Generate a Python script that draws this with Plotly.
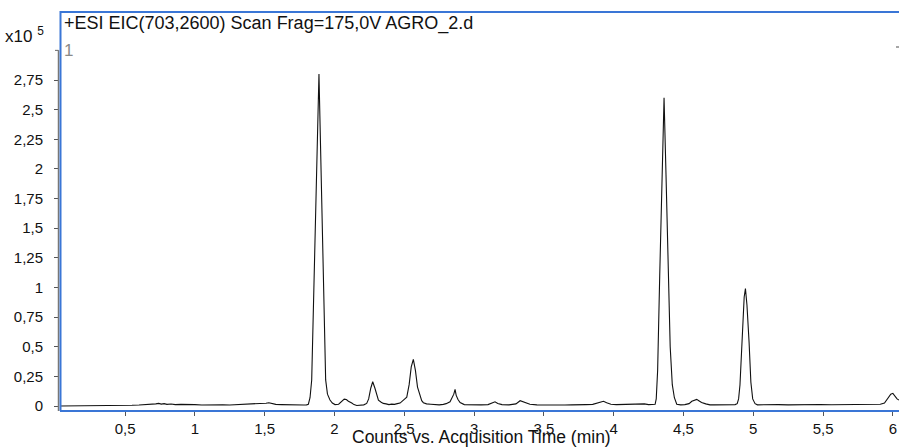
import plotly.graph_objects as go

# ---- data, intensity in units of 1e5 counts ----
time_min = [
    0.034, 0.10, 0.20, 0.30, 0.40, 0.45, 0.50, 0.55, 0.60, 0.65, 0.70, 0.72, 0.74, 0.76, 0.78, 0.80,
    0.83, 0.86, 0.90, 0.95, 1.00, 1.05, 1.10, 1.15, 1.20, 1.25, 1.30, 1.35, 1.40, 1.45, 1.48, 1.51,
    1.53, 1.55, 1.58, 1.62, 1.66, 1.70, 1.74, 1.78, 1.80, 1.813, 1.825, 1.837, 1.889, 1.937, 1.950,
    1.968, 1.985, 2.004, 2.03, 2.05, 2.07, 2.085, 2.10, 2.124, 2.14, 2.16, 2.19, 2.21, 2.231, 2.245,
    2.26, 2.274, 2.29, 2.30, 2.315, 2.335, 2.35, 2.37, 2.39, 2.41, 2.43, 2.45, 2.47, 2.494, 2.518,
    2.535, 2.55, 2.565, 2.58, 2.595, 2.613, 2.625, 2.637, 2.66, 2.69, 2.72, 2.75, 2.78, 2.80, 2.828,
    2.845, 2.855, 2.864, 2.872, 2.885, 2.90, 2.93, 2.96, 3.00, 3.05, 3.10, 3.13, 3.15, 3.17, 3.20,
    3.25, 3.30, 3.33, 3.36, 3.40, 3.45, 3.50, 3.55, 3.60, 3.65, 3.70, 3.75, 3.80, 3.85, 3.90, 3.927,
    3.95, 3.98, 4.02, 4.06, 4.10, 4.14, 4.19, 4.22, 4.25, 4.28, 4.297, 4.305, 4.315, 4.33, 4.345,
    4.361, 4.375, 4.39, 4.405, 4.42, 4.435, 4.452, 4.48, 4.51, 4.54, 4.56, 4.58, 4.595, 4.61, 4.63,
    4.66, 4.69, 4.72, 4.76, 4.80, 4.84, 4.87, 4.885, 4.895, 4.905, 4.918, 4.935, 4.944, 4.955, 4.970,
    4.983, 4.996, 5.013, 5.03, 5.07, 5.12, 5.18, 5.25, 5.32, 5.40, 5.48, 5.56, 5.64, 5.72, 5.80,
    5.86, 5.91, 5.94, 5.97, 5.985, 6.00, 6.015, 6.03, 6.044,
]
counts_e5 = [
    0.000, 0.000, 0.000, 0.000, 0.001, 0.002, 0.004, 0.006, 0.008, 0.010, 0.012, 0.018, 0.022, 0.016, 0.020, 0.014,
    0.017, 0.012, 0.014, 0.010, 0.012, 0.009, 0.011, 0.008, 0.010, 0.009, 0.012, 0.010, 0.013, 0.015, 0.018, 0.024,
    0.028, 0.020, 0.014, 0.012, 0.010, 0.009, 0.008, 0.008, 0.010, 0.015, 0.070, 0.220, 2.800, 0.220, 0.100,
    0.050, 0.025, 0.012, 0.015, 0.035, 0.058, 0.055, 0.040, 0.025, 0.012, 0.005, 0.006, 0.010, 0.022, 0.060,
    0.150, 0.205, 0.150, 0.100, 0.050, 0.032, 0.022, 0.018, 0.012, 0.016, 0.014, 0.020, 0.025, 0.050, 0.075,
    0.180, 0.330, 0.394, 0.300, 0.160, 0.080, 0.045, 0.028, 0.018, 0.015, 0.012, 0.010, 0.014, 0.020, 0.036,
    0.075, 0.100, 0.140, 0.090, 0.055, 0.030, 0.012, 0.010, 0.008, 0.010, 0.012, 0.025, 0.036, 0.022, 0.012,
    0.010, 0.018, 0.045, 0.030, 0.015, 0.010, 0.008, 0.007, 0.009, 0.008, 0.010, 0.009, 0.012, 0.014, 0.030, 0.040,
    0.028, 0.015, 0.012, 0.014, 0.012, 0.016, 0.022, 0.018, 0.012, 0.010, 0.015, 0.060, 0.300, 1.100, 1.950,
    2.600, 1.950, 1.200, 0.500, 0.180, 0.070, 0.015, 0.010, 0.012, 0.020, 0.040, 0.050, 0.056, 0.045, 0.030,
    0.018, 0.010, 0.010, 0.012, 0.010, 0.012, 0.012, 0.020, 0.060, 0.180, 0.540, 0.920, 0.990, 0.850, 0.540,
    0.200, 0.060, 0.020, 0.010, 0.012, 0.010, 0.012, 0.010, 0.012, 0.010, 0.013, 0.011, 0.012, 0.010, 0.012,
    0.013, 0.015, 0.025, 0.070, 0.100, 0.107, 0.085, 0.060, 0.050,
]

x_tick_vals = [0.5, 1, 1.5, 2, 2.5, 3, 3.5, 4, 4.5, 5, 5.5, 6]
x_tick_text = ["0,5", "1", "1,5", "2", "2,5", "3", "3,5", "4", "4,5", "5", "5,5", "6"]
y_tick_vals = [0, 0.25, 0.5, 0.75, 1, 1.25, 1.5, 1.75, 2, 2.25, 2.5, 2.75]
y_tick_text = ["0", "0,25", "0,5", "0,75", "1", "1,25", "1,5", "1,75", "2", "2,25", "2,5", "2,75"]

title_text = "+ESI EIC(703,2600) Scan Frag=175,0V AGRO_2.d"
x_title = "Counts vs. Acquisition Time (min)"

FONT = "Arial, 'Liberation Sans', sans-serif"
BLUE = "#3a76d6"
W, H = 899, 448
ML, MR, MT, MB = 60, 0, 11, 37
PW = W - ML - MR
PH = H - MT - MB

fig = go.Figure()
fig.add_trace(go.Scatter(x=time_min, y=counts_e5, mode="lines",
                         line=dict(color="#111111", width=1.1), hoverinfo="skip",
                         showlegend=False, cliponaxis=True))

fig.update_layout(
    width=W, height=H,
    margin=dict(l=ML, r=MR, t=MT, b=MB, autoexpand=False),
    paper_bgcolor="white", plot_bgcolor="white",
    font=dict(family=FONT, size=15, color="#111111"),
    xaxis=dict(range=[0.034, 6.044], tickvals=x_tick_vals, ticktext=x_tick_text,
               ticks="outside", ticklen=4, tickcolor="#555555", tickwidth=1,
               showgrid=False, zeroline=False, showline=False, automargin=False,
               tickfont=dict(family=FONT, size=15, color="#111111")),
    yaxis=dict(range=[-0.042, 3.332], tickvals=y_tick_vals, ticktext=y_tick_text,
               ticks="outside", ticklen=5, tickcolor="#555555", tickwidth=1,
               showgrid=False, zeroline=False, showline=False, automargin=False,
               ticklabelstandoff=8,
               tickfont=dict(family=FONT, size=15, color="#111111")),
)

px = 1.0 / PW
py = 1.0 / PH
# gray y-axis line (ends at 3.0)
fig.add_shape(type="line", xref="paper", yref="y", x0=-1.5 * px, x1=-1.5 * px, y0=-0.042, y1=3.0,
              line=dict(color="#777777", width=1.5))
fig.add_shape(type="line", xref="paper", yref="y", x0=-5 * px, x1=-1.5 * px, y0=3.0, y1=3.0,
              line=dict(color="#666666", width=1))
# blue frame
fig.add_shape(type="line", xref="paper", yref="paper", x0=0.5 * px, x1=0.5 * px, y0=0, y1=1,
              line=dict(color=BLUE, width=2))
fig.add_shape(type="line", xref="paper", yref="paper", x0=0, x1=1, y0=1 - 1 * py, y1=1 - 1 * py,
              line=dict(color=BLUE, width=2))
fig.add_shape(type="line", xref="paper", yref="paper", x0=0, x1=1, y0=0, y1=0,
              line=dict(color=BLUE, width=2))
# tiny mark at top right
fig.add_shape(type="line", xref="paper", yref="paper", x0=1 - 3 * px, x1=1, y0=1 - 36 * py, y1=1 - 36 * py,
              line=dict(color="#888888", width=1.5))

fig.add_annotation(xref="paper", yref="paper", x=2 * px, y=1 - 13 * py, xanchor="left", yanchor="middle",
                   text=title_text, showarrow=False, font=dict(family=FONT, size=18, color="#111111"))
fig.add_annotation(xref="paper", yref="paper", x=-57 * px, y=1 - 24 * py, xanchor="left", yanchor="middle",
                   text="x10 <sup>5</sup>", showarrow=False, font=dict(family=FONT, size=17, color="#111111"))
fig.add_annotation(xref="paper", yref="paper", x=8 * px, y=1 - 40 * py, xanchor="center", yanchor="middle",
                   text="1", showarrow=False, font=dict(family=FONT, size=17, color="#8a8a8a"))
fig.add_annotation(xref="paper", yref="paper", x=0.502, y=-26 * py, xanchor="center", yanchor="middle",
                   text=x_title, showarrow=False, font=dict(family=FONT, size=17.5, color="#111111"))

fig.write_html("out.html", config={"displayModeBar": False},
               post_script="document.body.style.margin='0';document.body.style.overflow='hidden';")
